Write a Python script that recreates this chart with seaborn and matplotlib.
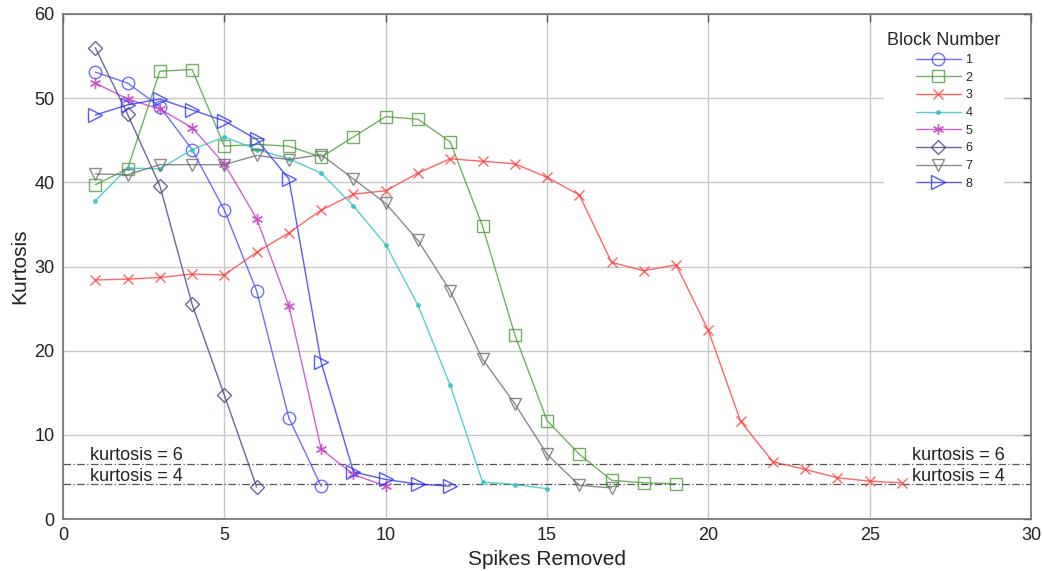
import numpy as np
import pandas as pd
import matplotlib
matplotlib.use("Agg")
import matplotlib.pyplot as plt
import seaborn as sns

# ---- data ----
blocks = ["1", "2", "3", "4", "5", "6", "7", "8"]
b1 = [53.1, 51.8, 49.0, 43.9, 36.7, 27.1, 12.0, 3.9]
b2 = [39.7, 41.6, 53.2, 53.4, 44.3, 44.5, 44.3, 43.0, 45.4, 47.8, 47.5, 44.8, 34.8, 21.9, 11.7, 7.7, 4.6, 4.3, 4.2]
b3 = [28.4, 28.5, 28.7, 29.1, 29.0, 31.7, 34.0, 36.7, 38.6, 39.0, 41.1, 42.8, 42.5, 42.2, 40.6, 38.5, 30.5, 29.5, 30.2, 22.4, 11.6, 6.8, 5.9, 4.9, 4.5, 4.3]
b4 = [37.8, 41.7, 41.6, 43.9, 45.4, 43.9, 42.8, 41.1, 37.2, 32.6, 25.4, 15.9, 4.4, 4.1, 3.6]
b5 = [51.8, 49.9, 48.7, 46.5, 42.2, 35.7, 25.3, 8.3, 5.3, 3.9]
b6 = [56.0, 48.1, 39.6, 25.5, 14.7, 3.8]
b7 = [41.0, 40.9, 42.1, 42.1, 42.1, 43.2, 42.7, 43.3, 40.4, 37.5, 33.1, 27.1, 19.0, 13.7, 7.7, 4.0, 3.7]
b8 = [48.0, 49.2, 49.9, 48.6, 47.3, 45.1, 40.4, 18.6, 5.6, 4.7, 4.15, 3.9]
series = [b1, b2, b3, b4, b5, b6, b7, b8]
ref_levels = [6.5, 4.2]
ref_labels = ["kurtosis = 6", "kurtosis = 4"]

colors = ["#4a4aff", "#4e9e3a", "#ff3f3f", "#2ec4c4", "#c43ac4", "#4c3f86", "#6e6e6e", "#3030ff"]
markers = ["o", "s", "x", ".", (6, 2, 0), "D", "v", ">"]
msizes = [9, 8, 7, 5, 8, 7, 9, 10]

rows = []
for b, vals in zip(blocks, series):
    for i, v in enumerate(vals):
        rows.append({"Spikes Removed": i + 1, "Kurtosis": v, "Block": b})
df = pd.DataFrame(rows)

sns.set_theme(style="white")
plt.rcParams["font.family"] = ["Liberation Sans", "DejaVu Sans"]

fig = plt.figure(figsize=(10.42, 5.71), dpi=100)
ax = fig.add_axes([0.0605, 0.091, 0.929, 0.8845])

for b, c, m, ms in zip(blocks, colors, markers, msizes):
    sub = df[df["Block"] == b]
    filled = (m == ".")
    sns.lineplot(data=sub, x="Spikes Removed", y="Kurtosis", ax=ax, color=c,
                 marker=m, markersize=ms, linewidth=1.0, alpha=0.8,
                 mfc=(c if filled else "none"), mec=c, mew=1.0, label=b)

for lvl in ref_levels:
    ax.axhline(lvl, color="#555555", lw=0.9, ls=(0, (6, 2, 1, 2)), zorder=1)

fs_txt = 13
ax.text(0.85, 7.0, ref_labels[0], fontsize=fs_txt, color="#222222", ha="left", va="baseline")
ax.text(0.85, 4.5, ref_labels[1], fontsize=fs_txt, color="#222222", ha="left", va="baseline")
ax.text(29.2, 7.0, ref_labels[0], fontsize=fs_txt, color="#222222", ha="right", va="baseline")
ax.text(29.2, 4.5, ref_labels[1], fontsize=fs_txt, color="#222222", ha="right", va="baseline")

ax.set_xlim(0, 30)
ax.set_ylim(0, 60)
ax.set_xticks(np.arange(0, 31, 5))
ax.set_yticks(np.arange(0, 61, 10))
ax.grid(True, color="#c8c8c8", lw=1.0)
ax.set_axisbelow(True)
ax.tick_params(direction="in", length=6, width=1.0, color="#555555",
               labelsize=13, labelcolor="#222222", top=True, right=True,
               labeltop=False, labelright=False, pad=6)
for sp in ax.spines.values():
    sp.set_color("#707070")
    sp.set_linewidth(1.2)
ax.set_xlabel("Spikes Removed", fontsize=15, color="#222222", labelpad=4)
ax.set_ylabel("Kurtosis", fontsize=15, color="#222222", labelpad=4)

leg = ax.legend(title="Block Number", loc="upper right", bbox_to_anchor=(0.979, 0.985),
                fontsize=9, title_fontsize=13, frameon=True, facecolor="white",
                edgecolor="none", framealpha=1.0, handlelength=3.6, handletextpad=0.4,
                labelspacing=0.45, borderpad=0.3, markerfirst=True)
leg.get_frame().set_linewidth(0)
leg._legend_box.align = "center"

fig.savefig("out.png", dpi=100)
